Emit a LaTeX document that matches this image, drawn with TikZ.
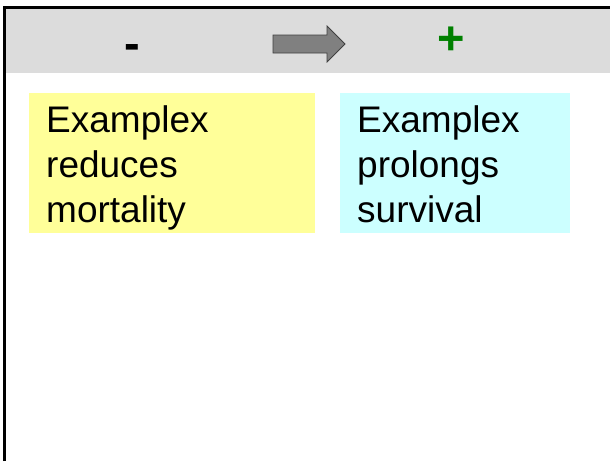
\documentclass[tikz,border=0pt]{standalone}
\usepackage{fontspec}
\setmainfont{Liberation Sans}
\definecolor{hdr}{HTML}{DCDCDC}
\definecolor{ybox}{HTML}{FFFF99}
\definecolor{cbox}{HTML}{CCFFFF}
\definecolor{plusg}{HTML}{008000}
\definecolor{arrg}{HTML}{808080}
\definecolor{arrd}{HTML}{404040}
\tikzset{
  box/.style={rectangle, inner sep=0pt, anchor=north west, minimum width=#1, minimum height=140pt},
  txt/.style={inner sep=0pt, anchor=north west, align=left, font=\fontsize{37}{45}\selectfont},
  sign/.style={inner sep=0pt, font=\bfseries\fontsize{47}{47}\selectfont}
}
\begin{document}
\begin{tikzpicture}[x=1pt,y=-1pt]
\useasboundingbox (0,0) rectangle (610,461);
\fill[white] (0,0) rectangle (610,461);
\fill[hdr] (4.7,7.3) rectangle (610,73);
\draw[line width=2.7pt] (4.7,461) -- (4.7,7.3) -- (610,7.3);
\node[sign] (minus) at (132,52) {-};
\node[sign, text=plusg] (plus) at (451,41) {+};
\draw[fill=arrg, draw=arrd, line width=0.8pt] (273,35) -- (327,35) -- (327,26) -- (345,44) -- (327,62) -- (327,53) -- (273,53) -- cycle;
\node[box=286pt, fill=ybox] (yb) at (29,93) {};
\node[box=230pt, fill=cbox] (cb) at (340,93) {};
\node[txt] (yt) at (46,105.5) {Examplex\\reduces\\mortality};
\node[txt] (ct) at (357,105.5) {Examplex\\prolongs\\survival};
\end{tikzpicture}
\end{document}
